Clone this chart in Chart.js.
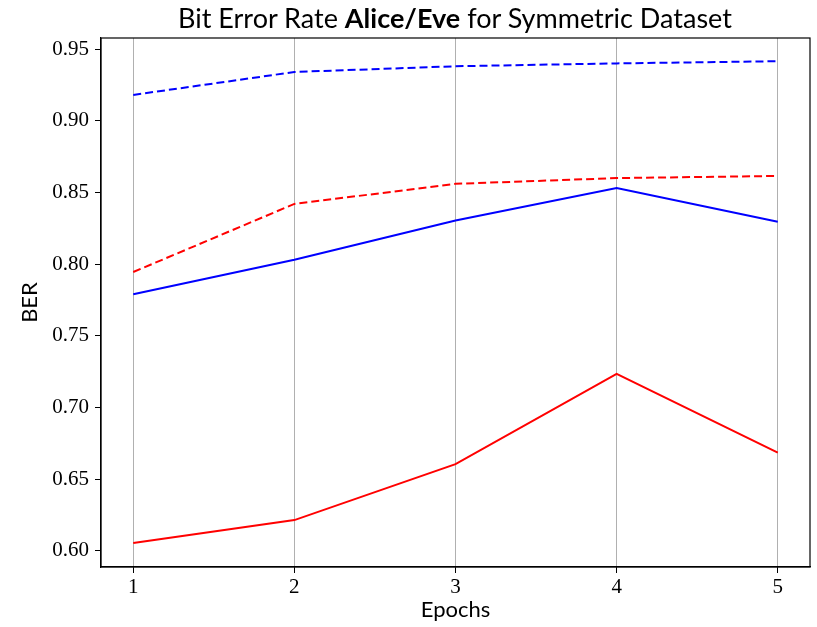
<!DOCTYPE html>
<html>
<head>
<meta charset="utf-8">
<script src="https://cdn.jsdelivr.net/npm/chart.js@4"></script>
<style>
    html, body { margin: 0; padding: 0; background: #fff; }
    #wrap { position: relative; width: 817px; height: 627px; }
    #title {
        position: absolute; left: 0; top: 1px; width: 817px; padding-left: 93px; box-sizing: border-box;
        text-align: center; font-family: Lato, "DejaVu Sans", sans-serif; font-size: 27px; color: #000;
    }
    canvas { position: absolute; left: 0; top: 0; }
</style>
</head>
<body>
<div id="wrap">
    <canvas id="berChart" width="817" height="627"></canvas>
    <div id="title">Bit Error Rate <b>Alice/Eve</b> for Symmetric Dataset</div>
</div>
<script>
    const epochs = [1, 2, 3, 4, 5];
    const yTicks = [0.60, 0.65, 0.70, 0.75, 0.80, 0.85, 0.90, 0.95];

    // dashed lines
    const eveBlue = [0.918, 0.934, 0.938, 0.940, 0.9415];
    const eveRed = [0.7945, 0.842, 0.856, 0.860, 0.8615];
    // solid lines
    const aliceBlue = [0.779, 0.803, 0.8305, 0.853, 0.8295];
    const aliceRed = [0.6055, 0.6215, 0.6605, 0.7235, 0.6685];

    const toPoints = (arr) => arr.map((v, i) => ({ x: epochs[i], y: v }));

    const frameBox = {
        id: "frameBox",
        afterDraw(chart) {
            const { ctx, chartArea: a } = chart;
            ctx.save();
            ctx.strokeStyle = "#000";
            ctx.lineWidth = 1.2;
            ctx.strokeRect(a.left, a.top, a.right - a.left, a.bottom - a.top);
            ctx.restore();
        }
    };

    const serifTick = { family: "'Liberation Serif', 'DejaVu Serif', serif", size: 21 };
    const sansLabel = { family: "Lato, 'DejaVu Sans', sans-serif", size: 22 };

    function line(data, color, dashed) {
        return {
            data: toPoints(data),
            borderColor: color,
            borderWidth: 2,
            borderDash: dashed ? [8, 4] : [],
            pointRadius: 0,
            tension: 0,
            fill: false
        };
    }

    new Chart(document.getElementById("berChart"), {
        type: "line",
        data: {
            datasets: [
                line(eveBlue, "#0000ff", true),
                line(eveRed, "#ff0000", true),
                line(aliceBlue, "#0000ff", false),
                line(aliceRed, "#ff0000", false)
            ]
        },
        options: {
            responsive: false,
            animation: false,
            layout: { padding: { top: 38, right: 7, left: 0, bottom: 0 } },
            plugins: { legend: { display: false }, tooltip: { enabled: false } },
            scales: {
                x: {
                    type: "linear",
                    min: 0.8,
                    max: 5.2,
                    afterBuildTicks: (s) => { s.ticks = epochs.map(v => ({ value: v })); },
                    afterFit: (s) => { s.height = 60; },
                    grid: { color: "#b0b0b0", lineWidth: 1, tickColor: "#000", tickLength: 6 },
                    border: { color: "#000", width: 1.2 },
                    ticks: { font: serifTick, color: "#000", padding: 2, maxRotation: 0 },
                    title: { display: true, text: "Epochs", font: sansLabel, color: "#000", padding: { top: 0, bottom: 4 } }
                },
                y: {
                    min: 0.5888,
                    max: 0.9577,
                    afterBuildTicks: (s) => { s.ticks = yTicks.map(v => ({ value: v })); },
                    afterFit: (s) => { s.width = 101; },
                    grid: { drawOnChartArea: false, tickColor: "#000", tickLength: 6 },
                    border: { color: "#000", width: 1.2 },
                    ticks: { font: serifTick, color: "#000", padding: 6, callback: (v) => v.toFixed(2) },
                    title: { display: true, text: "BER", font: sansLabel, color: "#000", padding: { top: 17, bottom: 0 } }
                }
            }
        },
        plugins: [frameBox]
    });
</script>
</body>
</html>
